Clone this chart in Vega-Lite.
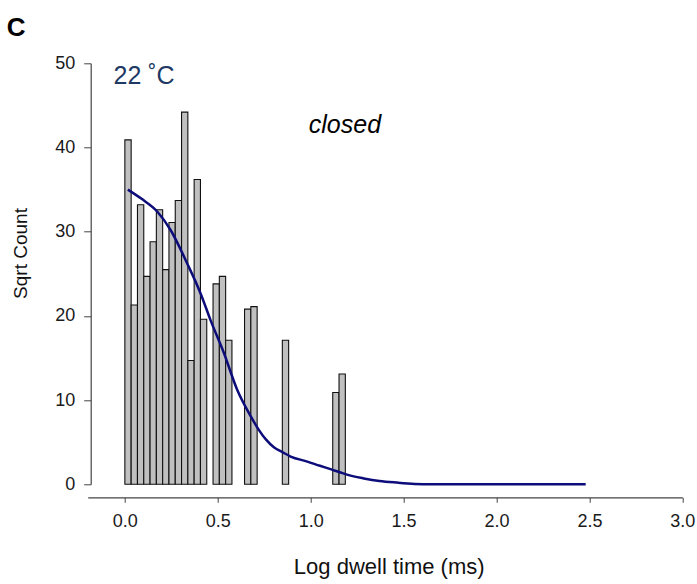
{
  "$schema": "https://vega.github.io/schema/vega-lite/v6.json",
  "width": 594.6,
  "height": 421,
  "autosize": {"type": "none"},
  "padding": {"left": 87.7, "top": 63.3, "right": 14.7, "bottom": 99.7},
  "background": "white",
  "config": {"view": {"stroke": null}, "font": "Liberation Sans"},
  "title": {"text": "C", "anchor": "start", "frame": "group", "fontSize": 26, "fontWeight": "bold", "font": "Liberation Sans", "color": "black", "dx": -81, "dy": 28, "offset": 20, "baseline": "alphabetic"},
  "datasets": {
    "bars": [
      {"start": 0.0, "end": 0.0339, "count": 40.9},
      {"start": 0.0339, "end": 0.0678, "count": 21.3},
      {"start": 0.0678, "end": 0.1017, "count": 33.2},
      {"start": 0.1017, "end": 0.1356, "count": 24.7},
      {"start": 0.1356, "end": 0.1695, "count": 28.8},
      {"start": 0.1695, "end": 0.2034, "count": 32.6},
      {"start": 0.2034, "end": 0.2373, "count": 25.5},
      {"start": 0.2373, "end": 0.2712, "count": 31.1},
      {"start": 0.2712, "end": 0.3051, "count": 33.7},
      {"start": 0.3051, "end": 0.339, "count": 44.2},
      {"start": 0.339, "end": 0.3729, "count": 14.7},
      {"start": 0.3729, "end": 0.4068, "count": 36.2},
      {"start": 0.4068, "end": 0.4407, "count": 19.6},
      {"start": 0.4746, "end": 0.5085, "count": 23.8},
      {"start": 0.5085, "end": 0.5424, "count": 24.7},
      {"start": 0.5424, "end": 0.5763, "count": 17.1},
      {"start": 0.6441, "end": 0.678, "count": 20.8},
      {"start": 0.678, "end": 0.7119, "count": 21.1},
      {"start": 0.8475, "end": 0.8814, "count": 17.1},
      {"start": 1.1187, "end": 1.1526, "count": 10.9},
      {"start": 1.1526, "end": 1.1865, "count": 13.1}
    ],
    "fit": [
      {"x": 0.016, "y": 35.0},
      {"x": 0.09, "y": 33.9},
      {"x": 0.174, "y": 32.4},
      {"x": 0.246, "y": 30.2},
      {"x": 0.336, "y": 26.2},
      {"x": 0.407, "y": 22.7},
      {"x": 0.461, "y": 19.5},
      {"x": 0.533, "y": 15.6},
      {"x": 0.605, "y": 11.2},
      {"x": 0.677, "y": 8.1},
      {"x": 0.72, "y": 6.5},
      {"x": 0.76, "y": 5.3},
      {"x": 0.802, "y": 4.4},
      {"x": 0.85, "y": 3.8},
      {"x": 0.892, "y": 3.3},
      {"x": 0.982, "y": 2.7},
      {"x": 1.05, "y": 2.2},
      {"x": 1.107, "y": 1.8},
      {"x": 1.161, "y": 1.4},
      {"x": 1.22, "y": 1.0},
      {"x": 1.286, "y": 0.7},
      {"x": 1.37, "y": 0.4},
      {"x": 1.466, "y": 0.2},
      {"x": 1.56, "y": 0.05},
      {"x": 1.645, "y": 0.0},
      {"x": 2.0, "y": 0.0},
      {"x": 2.48, "y": 0.0}
    ],
    "temp": [{"x": -0.061, "y": 47.6, "label": "22 ˚C"}],
    "state": [{"x": 0.99, "y": 41.7, "label": "closed"}]
  },
  "layer": [
    {
      "data": {"name": "bars"},
      "mark": {"type": "rect", "fill": "#c0c0c0", "stroke": "#111", "strokeWidth": 1.1},
      "encoding": {
        "x": {"field": "start", "type": "quantitative", "title": "Log dwell time (ms)",
          "scale": {"domain": [-0.2, 3.0], "nice": false, "zero": false},
          "axis": {"values": [0, 0.5, 1, 1.5, 2, 2.5, 3], "format": ".1f", "grid": false,
            "tickSize": 5, "offset": 13, "labelPadding": 10, "labelFontSize": 18, "labelFlush": false, "labelOverlap": false,
            "labelColor": "#1a1a1a", "domainColor": "#444", "tickColor": "#444", "domainWidth": 1.2,
            "titleFontSize": 22, "titleFontWeight": "normal", "titleColor": "#111", "titleX": 301, "titleY": 76, "titleBaseline": "alphabetic", "titleAlign": "center"}},
        "x2": {"field": "end"},
        "y": {"field": "count", "type": "quantitative", "title": "Sqrt Count",
          "scale": {"domain": [0, 50], "nice": false},
          "axis": {"values": [0, 10, 20, 30, 40, 50], "grid": false,
            "tickSize": 7, "offset": -3, "labelPadding": 9, "labelFontSize": 18, "labelColor": "#1a1a1a", "domainColor": "#444", "tickColor": "#444", "domainWidth": 1.2,
            "titleFontSize": 19, "titleFontWeight": "normal", "titleColor": "#111", "titleX": -70.7, "titleY": 189.7, "titleAngle": -90, "titleBaseline": "middle", "titleAlign": "center"}},
        "y2": {"datum": 0}
      }
    },
    {
      "data": {"name": "fit"},
      "mark": {"type": "line", "color": "#0c0c7a", "strokeWidth": 2.5, "interpolate": "monotone"},
      "encoding": {
        "x": {"field": "x", "type": "quantitative", "title": "Log dwell time (ms)"},
        "y": {"field": "y", "type": "quantitative", "title": "Sqrt Count"}
      }
    },
    {
      "data": {"name": "temp"},
      "mark": {"type": "text", "align": "left", "baseline": "alphabetic", "fontSize": 25, "font": "Liberation Sans", "color": "#203864"},
      "encoding": {
        "x": {"field": "x", "type": "quantitative", "title": "Log dwell time (ms)"},
        "y": {"field": "y", "type": "quantitative", "title": "Sqrt Count"},
        "text": {"field": "label"}
      }
    },
    {
      "data": {"name": "state"},
      "mark": {"type": "text", "align": "left", "baseline": "alphabetic", "fontSize": 25, "fontStyle": "italic", "font": "Liberation Sans", "color": "black"},
      "encoding": {
        "x": {"field": "x", "type": "quantitative", "title": "Log dwell time (ms)"},
        "y": {"field": "y", "type": "quantitative", "title": "Sqrt Count"},
        "text": {"field": "label"}
      }
    }
  ]
}
